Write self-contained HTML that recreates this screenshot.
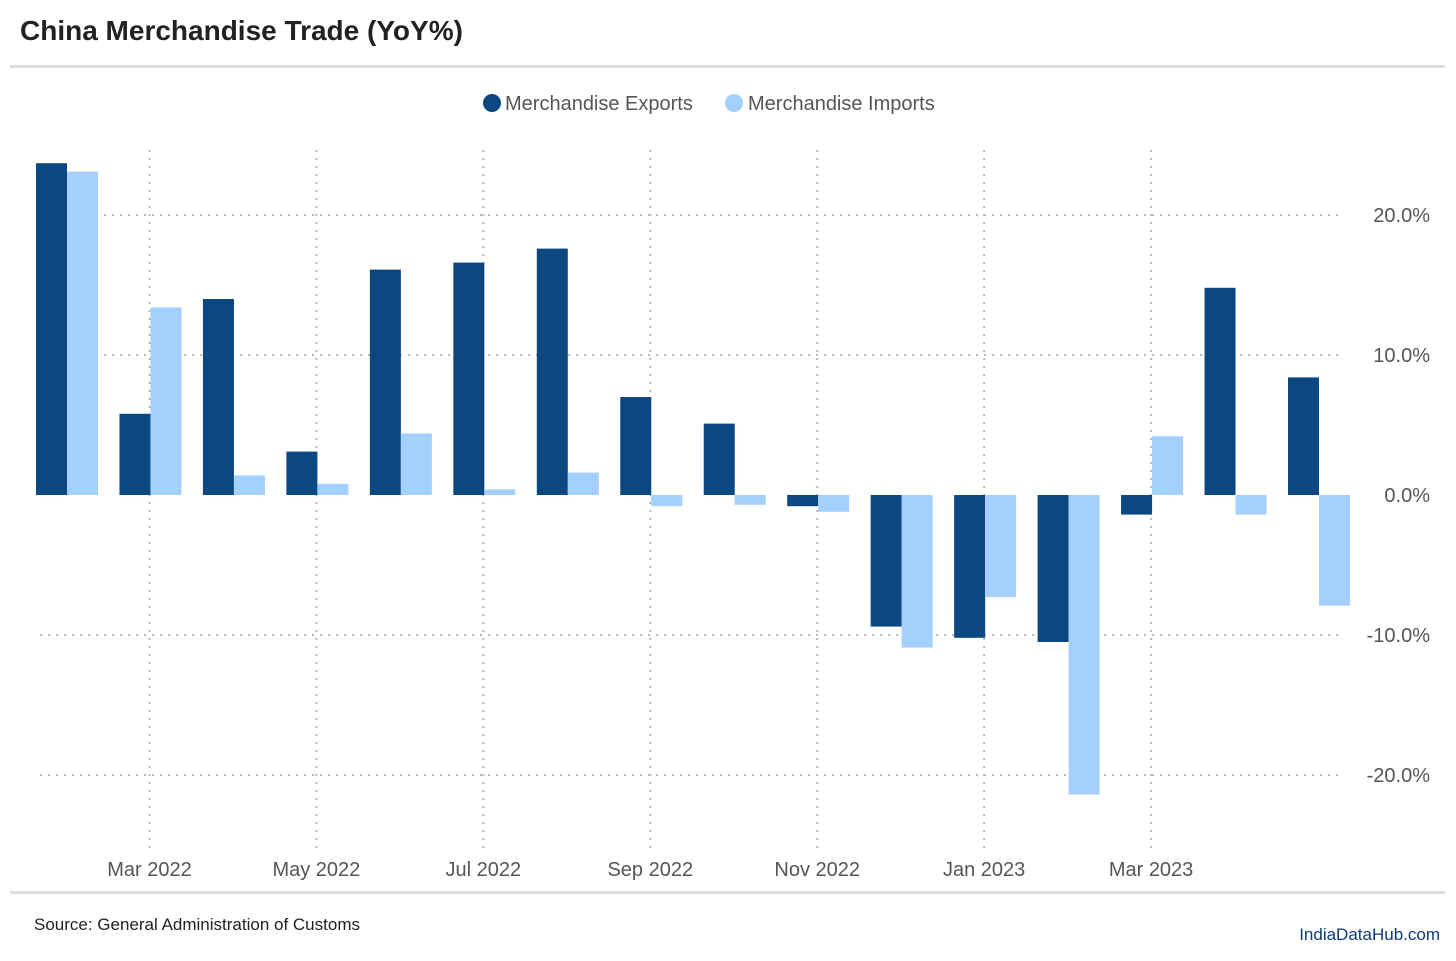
<!DOCTYPE html>
<html><head><meta charset="utf-8">
<style>
body{margin:0;background:#fff;font-family:"Liberation Sans",sans-serif;}
svg text{font-family:"Segoe UI","Liberation Sans",sans-serif;}
</style></head>
<body>
<svg id="chart" width="1456" height="956" xmlns="http://www.w3.org/2000/svg">
<text x="20" y="40" font-size="28" font-weight="bold" fill="#222">China Merchandise Trade (YoY%)</text>
<rect x="10" y="65" width="1435" height="3" fill="#ddd"/>
<rect x="10" y="891" width="1435" height="3" fill="#ddd"/>
<g>
<circle cx="492" cy="103" r="9" fill="#0b4882"/>
<text x="505" y="110" font-size="20" fill="#555">Merchandise Exports</text>
<circle cx="734" cy="103" r="9" fill="#a3d0fd"/>
<text x="748" y="110" font-size="20" fill="#555">Merchandise Imports</text>
</g>
<g id="grid"></g>
<g id="bars"></g>
<g id="labels"></g>
<text x="34" y="930" font-size="17" fill="#222">Source: General Administration of Customs</text>
<text x="1440" y="940" font-size="17" fill="#0b3a78" text-anchor="end">IndiaDataHub.com</text>
</svg>
<script>
const months = ["Feb 2022","Mar 2022","Apr 2022","May 2022","Jun 2022","Jul 2022","Aug 2022","Sep 2022","Oct 2022","Nov 2022","Dec 2022","Jan 2023","Feb 2023","Mar 2023","Apr 2023","May 2023"];
const exportsYoY = [23.7,5.8,14.0,3.1,16.1,16.6,17.6,7.0,5.1,-0.8,-9.4,-10.2,-10.5,-1.4,14.8,8.4];
const importsYoY = [23.1,13.4,1.4,0.8,4.4,0.4,1.6,-0.8,-0.7,-1.2,-10.9,-7.3,-21.4,4.2,-1.4,-7.9];
const yTicks = [20,10,0,-10,-20];
const yTickLabels = ["20.0%","10.0%","0.0%","-10.0%","-20.0%"];
const xTickMonths = [1,3,5,7,9,11,13];
const xTickLabels = ["Mar 2022","May 2022","Jul 2022","Sep 2022","Nov 2022","Jan 2023","Mar 2023"];

const NS="http://www.w3.org/2000/svg";
const y = v => 495 - v*14;
const x = m => 67 + m*(1319-67)/15;
const bw = 31;
function mk(tag, attrs, parent){const e=document.createElementNS(NS,tag);for(const k in attrs)e.setAttribute(k,attrs[k]);document.getElementById(parent).appendChild(e);return e;}

yTicks.forEach((t,i)=>{
  if(t!==0){
    const l=mk("line",{x1:40,x2:1340,y1:y(t),y2:y(t),stroke:"#bbb","stroke-width":2,"stroke-dasharray":"2 6"},"grid");
    
    
  }
  const tx=mk("text",{x:1430,y:y(t)+7,"font-size":20,fill:"#555","text-anchor":"end"},"labels");
  tx.textContent=yTickLabels[i];
  
  
});
xTickMonths.forEach((m,i)=>{
  const xx=x(m)-1;
  const l=mk("line",{x1:xx,x2:xx,y1:150,y2:848,stroke:"#bbb","stroke-width":2,"stroke-dasharray":"2 6"},"grid");
  
  
  const tx=mk("text",{x:xx,y:876,"font-size":20,fill:"#555","text-anchor":"middle"},"labels");
  tx.textContent=xTickLabels[i];
  
  
});
months.forEach((m,i)=>{
  const c=x(i);
  const e=exportsYoY[i], im=importsYoY[i];
  const r1=mk("rect",{x:c-bw,y:Math.min(y(e),y(0)),width:bw,height:Math.abs(y(e)-y(0)),fill:"#0b4882"},"bars");
  
  
  const r2=mk("rect",{x:c,y:Math.min(y(im),y(0)),width:bw,height:Math.abs(y(im)-y(0)),fill:"#a3d0fd"},"bars");
  
  
});
</script>
</body></html>
